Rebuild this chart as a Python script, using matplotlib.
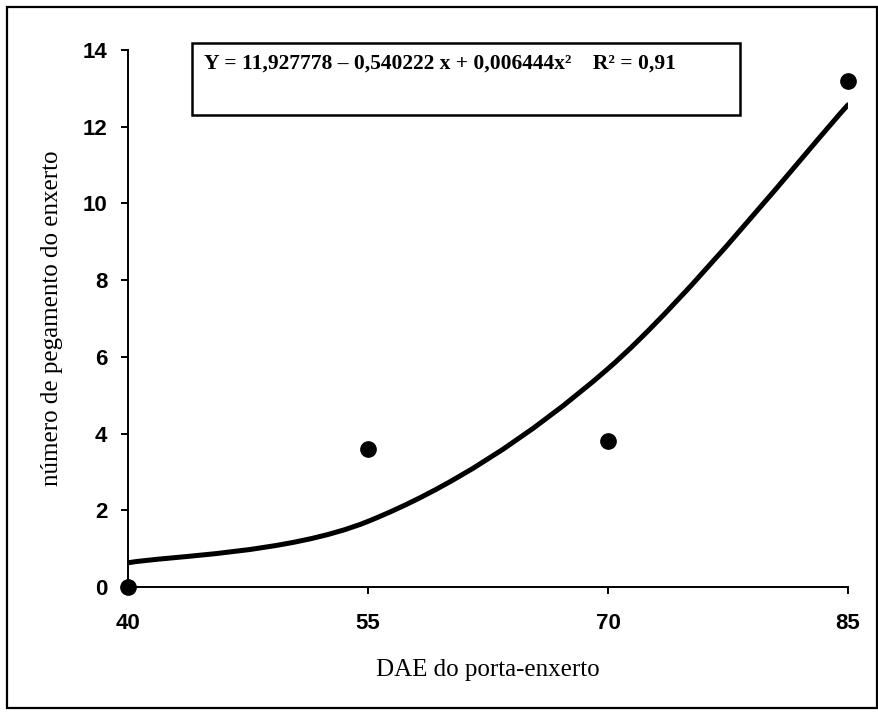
import numpy as np
import matplotlib
matplotlib.use("Agg")
import matplotlib.pyplot as plt
from matplotlib.path import Path
from matplotlib.patches import PathPatch, Rectangle

## donnees
dae = [40, 55, 70, 85]                 # DAE do porta-enxerto
pegamento = [0.0, 3.6, 3.8, 13.2]      # valeurs observees
ajuste = [0.63, 1.71, 5.69, 12.57]     # valeurs de la regression aux memes x

xticks = [40, 55, 70, 85]
yticks = [0, 2, 4, 6, 8, 10, 12, 14]
equation = "Y = 11,927778 \u2013 0,540222 x + 0,006444x\u00b2    R\u00b2 = 0,91"
xlabel = "DAE do porta-enxerto"
ylabel = "número de pegamento do enxerto"

serif = "Liberation Serif"
sans = "Liberation Sans"


# courbe lissee type Excel (Bezier entre les points ajustes)
def smooth_path(x, y):
    pts = np.column_stack([x, y]).astype(float)
    n = len(pts)
    verts = [pts[0]]
    codes = [Path.MOVETO]
    for i in range(n - 1):
        p0 = pts[max(i - 1, 0)]
        p1 = pts[i]
        p2 = pts[i + 1]
        p3 = pts[min(i + 2, n - 1)]
        c1 = p1 + (p2 - p0) / 6.0
        c2 = p2 - (p3 - p1) / 6.0
        verts += [c1, c2, p2]
        codes += [Path.CURVE4] * 3
    return Path(verts, codes)


fig = plt.figure(figsize=(8.79, 7.12), dpi=100)
ax = fig.add_axes([0.1456, 0.1756, 0.8191, 0.7542])

ax.add_patch(PathPatch(smooth_path(dae, ajuste), facecolor="none",
                       edgecolor="black", lw=3.6, capstyle="round"))
ax.plot(dae, pegamento, "o", color="black", ms=11, clip_on=False, zorder=5)

ax.set_xlim(40, 85)
ax.set_ylim(0, 14)
ax.set_xticks(xticks)
ax.set_yticks(yticks)
for s in ["top", "right"]:
    ax.spines[s].set_visible(False)
for s in ["left", "bottom"]:
    ax.spines[s].set_linewidth(1.4)
ax.tick_params(axis="both", direction="out", length=5, width=1.4)
ax.tick_params(axis="x", pad=14)
ax.tick_params(axis="y", pad=10)
for lab in ax.get_xticklabels() + ax.get_yticklabels():
    lab.set_fontfamily(sans)
    lab.set_fontsize(16)
    lab.set_fontweight("bold")

ax.set_xlabel(xlabel, family=serif, fontsize=18, labelpad=18)
ax.set_ylabel(ylabel, family=serif, fontsize=18, labelpad=14)

# encadre de l'equation
fig.patches.append(Rectangle((0.2184, 0.8385), 0.6234, 0.1011, transform=fig.transFigure,
                             facecolor="white", edgecolor="black", lw=1.8))
fig.text(0.2320, 0.9100, equation, family=serif, fontweight="bold", fontsize=15.5,
         va="center", ha="left")

# cadre exterieur
fig.patches.append(Rectangle((0.008, 0.006), 0.990, 0.984, transform=fig.transFigure,
                             facecolor="none", edgecolor="black", lw=1.6))

fig.savefig("out.png", dpi=100)
